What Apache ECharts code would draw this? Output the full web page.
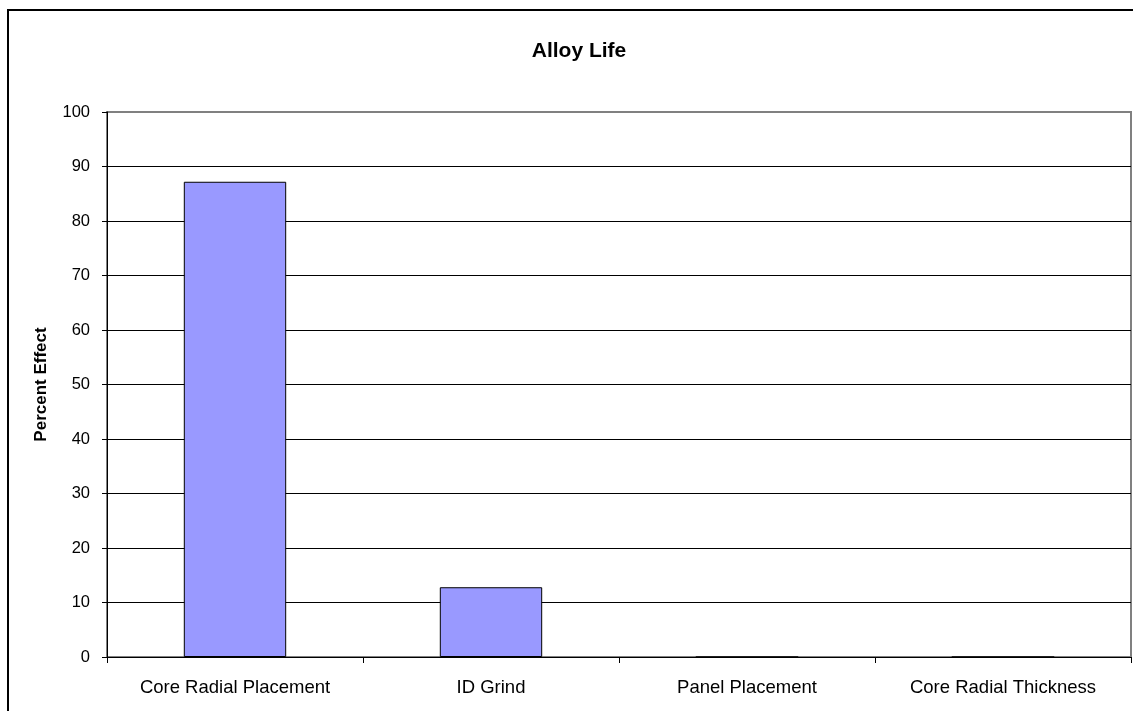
<!DOCTYPE html>
<html>
<head>
<meta charset="utf-8">
<script src="https://cdn.jsdelivr.net/npm/echarts@6/dist/echarts.min.js"></script>
<style>
  html, body { margin: 0; padding: 0; background: #fff; }
  #chart { width: 1133px; height: 711px; }
</style>
</head>
<body>
<div id="chart"></div>
<script>
const categories = ['Core Radial Placement', 'ID Grind', 'Panel Placement', 'Core Radial Thickness'];
const percentEffect = [87.2, 12.8, 0, 0];

const font = '"Liberation Sans", Arial, sans-serif';
const myChart = echarts.init(document.getElementById('chart'));

const options = {
  backgroundColor: '#fff',
  animation: false,
  title: {
    text: 'Alloy Life',
    left: 574,
    top: 36,
    textAlign: 'center',
    textStyle: { fontFamily: font, fontSize: 21, fontWeight: 'bold', color: '#000' },
  },
  graphic: [
    {
      type: 'rect',
      shape: { x: 8, y: 10, width: 1140, height: 720 },
      style: { fill: 'none', stroke: '#000', lineWidth: 2 },
      z: 100,
    },
  ],
  grid: {
    left: 107,
    top: 112,
    right: 2,
    bottom: 54,
    show: true,
    borderColor: '#808080',
    borderWidth: 2,
    backgroundColor: '#fff',
  },
  xAxis: {
    type: 'category',
    data: categories,
    boundaryGap: true,
    axisLine: { lineStyle: { color: '#000', width: 1 } },
    axisTick: { show: true, interval: 0, length: 6, lineStyle: { color: '#000' } },
    axisLabel: { interval: 0, margin: 21, color: '#000', fontFamily: font, fontSize: 18.5 },
    splitLine: { show: false },
  },
  yAxis: {
    type: 'value',
    min: 0,
    max: 100,
    interval: 10,
    name: 'Percent Effect',
    nameLocation: 'middle',
    nameGap: 57,
    nameTextStyle: { fontFamily: font, fontSize: 17, fontWeight: 'bold', color: '#000' },
    axisLine: { show: true, lineStyle: { color: '#000', width: 1 } },
    axisTick: { show: true, length: 5, lineStyle: { color: '#000' } },
    axisLabel: { margin: 17, color: '#000', fontFamily: font, fontSize: 16.5 },
    splitLine: { show: true, showMaxLine: false, lineStyle: { color: '#000', width: 1 } },
  },
  series: [
    {
      type: 'bar',
      data: percentEffect,
      barCategoryGap: '60%',
      itemStyle: { color: '#9999FF', borderColor: '#000', borderWidth: 1 },
    },
  ],
};

myChart.setOption(options);
</script>
</body>
</html>
